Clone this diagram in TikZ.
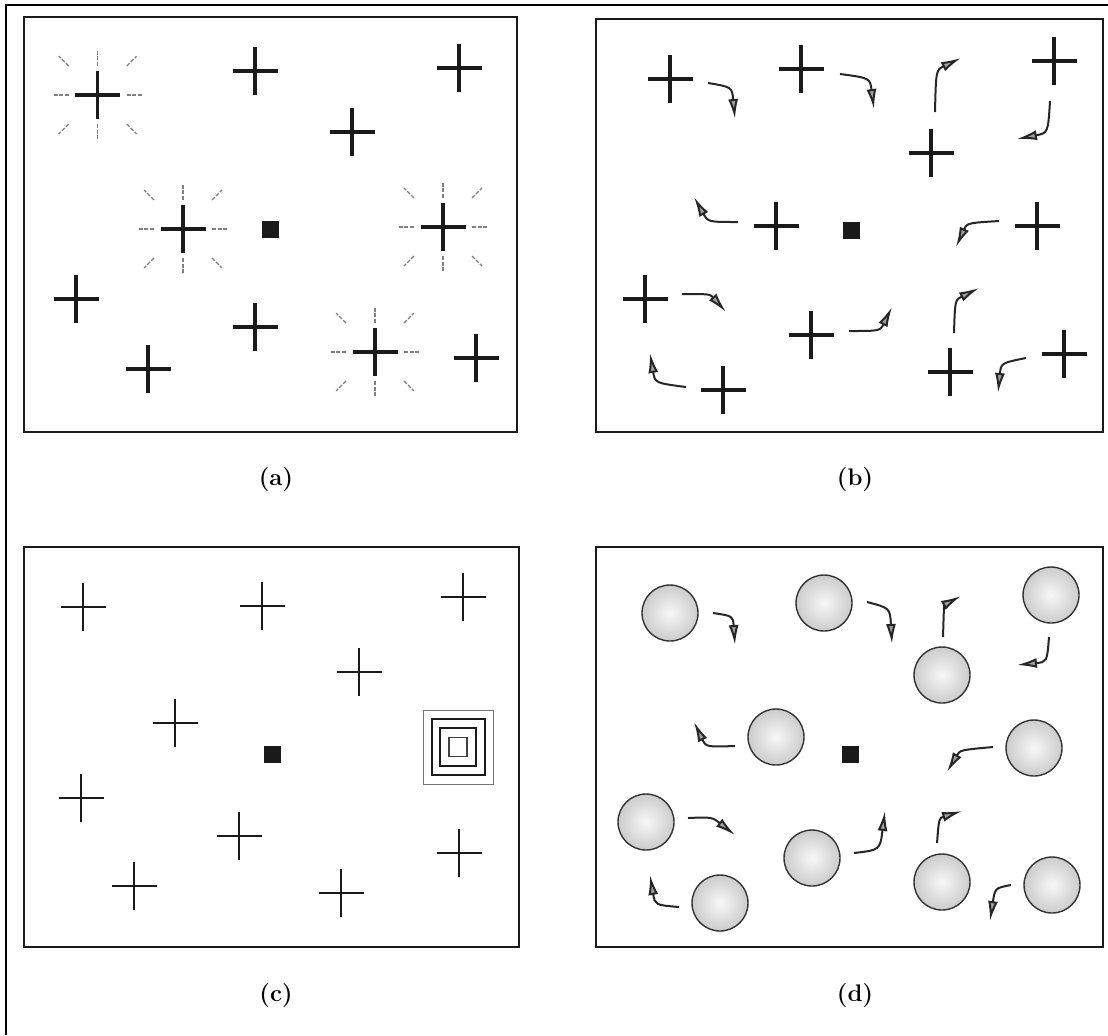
\documentclass[tikz,border=0pt]{standalone}
\usetikzlibrary{arrows.meta}
\definecolor{ink}{HTML}{1A1A1A}
\definecolor{shade}{HTML}{A0A0A0}
\tikzset{>=Latex,
  frame/.style={draw=ink,line width=.7pt},
  bar/.style={draw=ink,line width=1.6pt},
  thinbar/.style={draw=ink,line width=1.1pt},
  ray/.style={draw=black!50,line width=.6pt,dash pattern=on 2pt off .8pt},
  motion/.style={draw=black!85,line width=1pt,-{Latex[length=10pt,width=5pt,fill=shade]}},
  ball/.style={circle,draw=black!80,line width=.7pt,inner color=black!3,outer color=black!20,minimum size=28pt,inner sep=0pt},
  target/.style={fill=ink,minimum size=8.5pt,inner sep=0pt},
  caption/.style={font=\fontsize{12}{14}\selectfont\bfseries},
  pics/plus/.style={code={\draw[#1] (-22.5,0)--(22.5,0) (0,-24)--(0,24);}},
  pics/plus/.default=bar,
  pics/glow/.style={code={\foreach \a in {0,90,180,270}\draw[ray] (\a:29)--(\a:44);
    \foreach \a in {45,135,225,315}\draw[ray] (\a:41)--(\a:55);}}}
\begin{document}
\begin{tikzpicture}[x=.5pt,y=-.5pt]
\useasboundingbox (0,0) rectangle (1108,1035);
\draw[line width=1pt] (6,1035)--(6,5)--(1108,5);
% (a) sources that send
\draw[frame] (24,17) rectangle (517,432);
\foreach \x/\y in {97.7/95,183/229,443/227,375/352} \pic at (\x,\y) {glow};
\foreach \x/\y in {97.7/95,255/71,459/68,352/132,183/229,443/227,76/299,255/327,148/369,375/352,476/358}
  \pic at (\x,\y) {plus};
\node[target] (sa) at (270,229) {};
\node[caption] (capa) at (276,480) {(a)};
% (b) moving sources
\draw[frame] (596,19) rectangle (1103,432);
\foreach \x/\y in {670/79,801/69,1054/61,931/153,776/226,1037/226,645/299,811/335,723/390,950/372,1064/354}
  \pic at (\x,\y) {plus};
\node[target] (sb) at (851,230) {};
\draw[motion] (708,83) .. controls (732,87) .. (735,119);
\draw[motion] (840,74) .. controls (870,78) .. (874,109);
\draw[motion] (935,112) .. controls (936,70) .. (961,58);
\draw[motion] (1050,101) .. controls (1048,133) .. (1017,139);
\draw[motion] (738,222) .. controls (708,222) .. (694,197);
\draw[motion] (999,221) .. controls (967,223) .. (956,247);
\draw[motion] (682,294) .. controls (710,294) .. (726,312);
\draw[motion] (849,331) .. controls (880,331) .. (892,307);
\draw[motion] (686,387) .. controls (655,383) .. (650,353);
\draw[motion] (954,333) .. controls (955,300) .. (979,288);
\draw[motion] (1026,358) .. controls (1001,363) .. (998,393);
\node[caption] (capb) at (855,480) {(b)};
% (c) one source found
\draw[frame] (24,547) rectangle (519,947);
\foreach \x/\y in {83/607,262/606,463/597,359/672,175/723,81/798,239/836,459/853,134/886,341/893}
  \pic at (\x,\y) {plus=thinbar};
\node[target] (sc) at (272,754) {};
\foreach \w/\h/\c/\t in {35/37/black!55/.5pt,26.5/28/ink/1pt,18/19/ink/1pt,9/9.5/black!75/.7pt}
  \node[draw=\c,line width=\t,minimum width=\w pt,minimum height=\h pt,inner sep=0pt] at (458,747) {};
\node[caption] (capc) at (276,995) {(c)};
% (d) moving bodies
\draw[frame] (596,547) rectangle (1103,947);
\foreach \x/\y [count=\i] in {670/613,824/603,1051/595,942/675,776/737,1034/748,646/822,812/858,720/903,942/882,1052/885}
  \node[ball] (ball\i) at (\x,\y) {};
\node[target] (sd) at (850,754) {};
\draw[motion] (713,613) .. controls (733,616) .. (735,645);
\draw[motion] (867,602) .. controls (890,608) .. (892,644);
\draw[motion] (943,637) .. controls (944,605) .. (961,596);
\draw[motion] (1049,637) .. controls (1047,662) .. (1017,665);
\draw[motion] (735,746) .. controls (706,747) .. (694,722);
\draw[motion] (993,747) .. controls (960,750) .. (947,772);
\draw[motion] (688,818) .. controls (712,817) .. (735,835);
\draw[motion] (854,853) .. controls (880,850) .. (885,811);
\draw[motion] (679,907) .. controls (655,905) .. (650,875);
\draw[motion] (937,843) .. controls (939,818) .. (962,811);
\draw[motion] (1011,885) .. controls (995,888) .. (990,921);
\node[caption] (capd) at (855,995) {(d)};
\end{tikzpicture}
\end{document}
